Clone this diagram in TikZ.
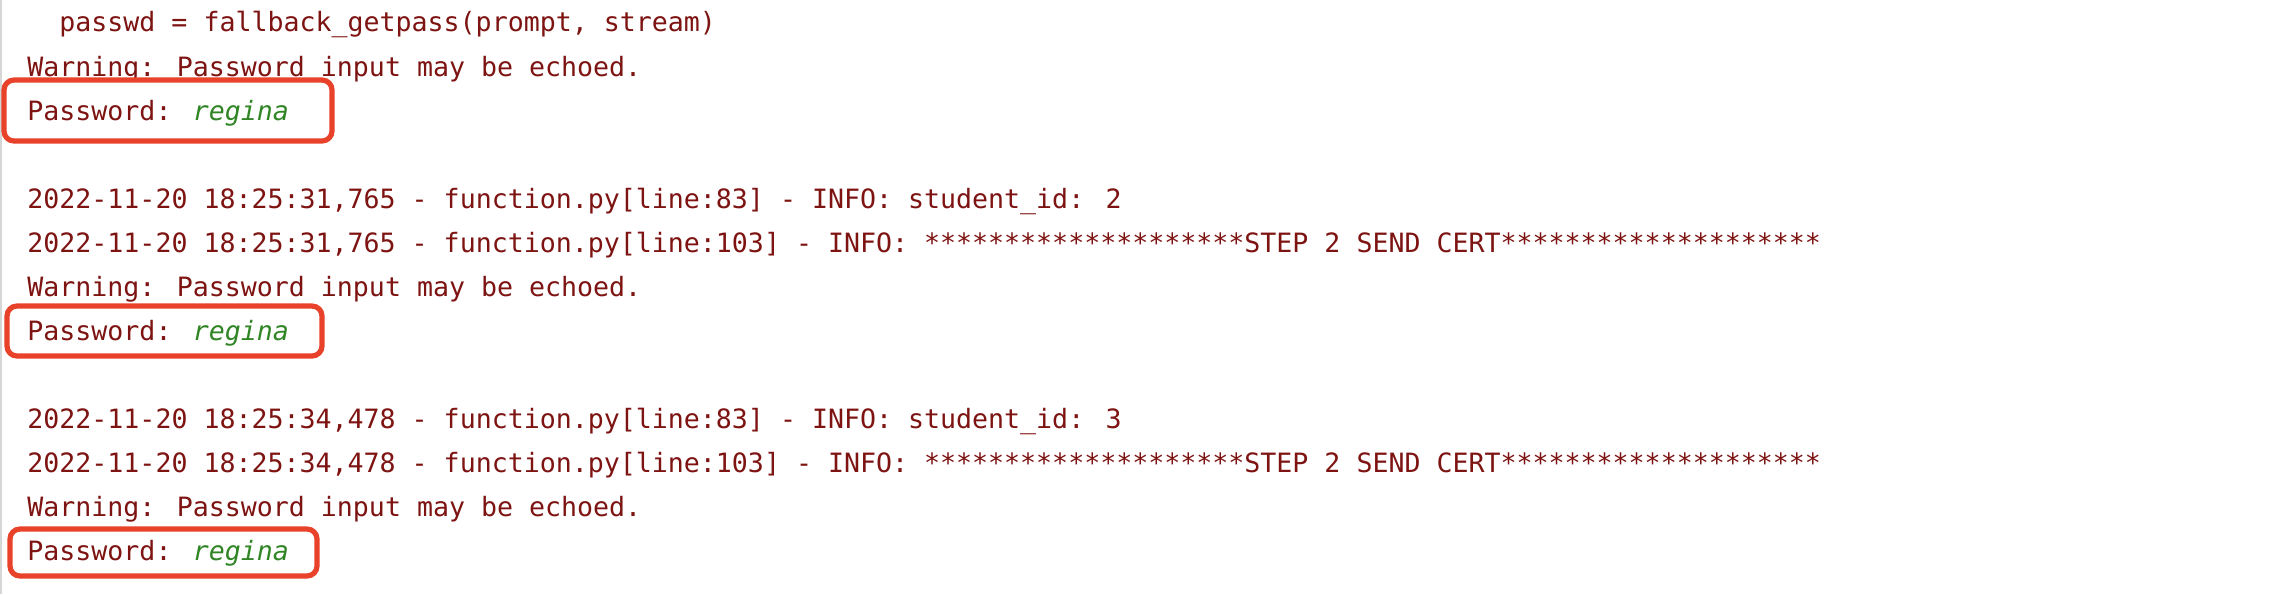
\documentclass[tikz,border=0pt]{standalone}
\definecolor{errred}{RGB}{125, 20, 18}
\definecolor{inputgreen}{RGB}{48, 133, 36}
\definecolor{boxred}{RGB}{232, 66, 42}
\definecolor{gutter}{RGB}{214, 214, 214}
\usepackage{tikz}
\usetikzlibrary{positioning}
\usepackage{fontspec}
\newfontfamily\consolefont{DejaVu Sans Mono}

\tikzset{
  logline/.style={anchor=base west, inner sep=0pt, text=errred, font=\consolefont\fontsize{13.3pt}{15pt}\selectfont},
  markbox/.style={draw=boxred, line width=2.6pt, rounded corners=5pt}
}
\newcommand{\typed}[1]{\textcolor{inputgreen}{\itshape #1}}

\begin{document}
\begin{tikzpicture}[x=0.5pt, y=-0.5pt]
  \useasboundingbox (0,0) rectangle (2278,594);
  \fill[white] (0,0) rectangle (2278,594);

  % Gutter
  \draw[gutter, line width=0.8pt] (1,0) -- (1,594);

  % First prompt
  \node[logline] (trace) at (59, 32) {passwd = fallback\_getpass(prompt, stream)};
  \node[logline] (warn1) at (27, 76) {Warning: Password input may be echoed.};
  \node[logline] (pass1) at (27, 120) {Password: \typed{regina}};

  % Student 2
  \node[logline] (info1) at (27, 208) {2022-11-20 18:25:31,765 - function.py[line:83] - INFO: student\_id: 2};
  \node[logline] (step1) at (27, 252) {2022-11-20 18:25:31,765 - function.py[line:103] - INFO: ********************STEP 2 SEND CERT********************};
  \node[logline] (warn2) at (27, 296) {Warning: Password input may be echoed.};
  \node[logline] (pass2) at (27, 340) {Password: \typed{regina}};

  % Student 3
  \node[logline] (info2) at (27, 428) {2022-11-20 18:25:34,478 - function.py[line:83] - INFO: student\_id: 3};
  \node[logline] (step2) at (27, 472) {2022-11-20 18:25:34,478 - function.py[line:103] - INFO: ********************STEP 2 SEND CERT********************};
  \node[logline] (warn3) at (27, 516) {Warning: Password input may be echoed.};
  \node[logline] (pass3) at (27, 560) {Password: \typed{regina}};

  % Highlights
  \draw[markbox] (4, 80) rectangle (332, 141);
  \draw[markbox] (7, 306) rectangle (322, 356);
  \draw[markbox] (10, 529) rectangle (317, 576);
\end{tikzpicture}
\end{document}
